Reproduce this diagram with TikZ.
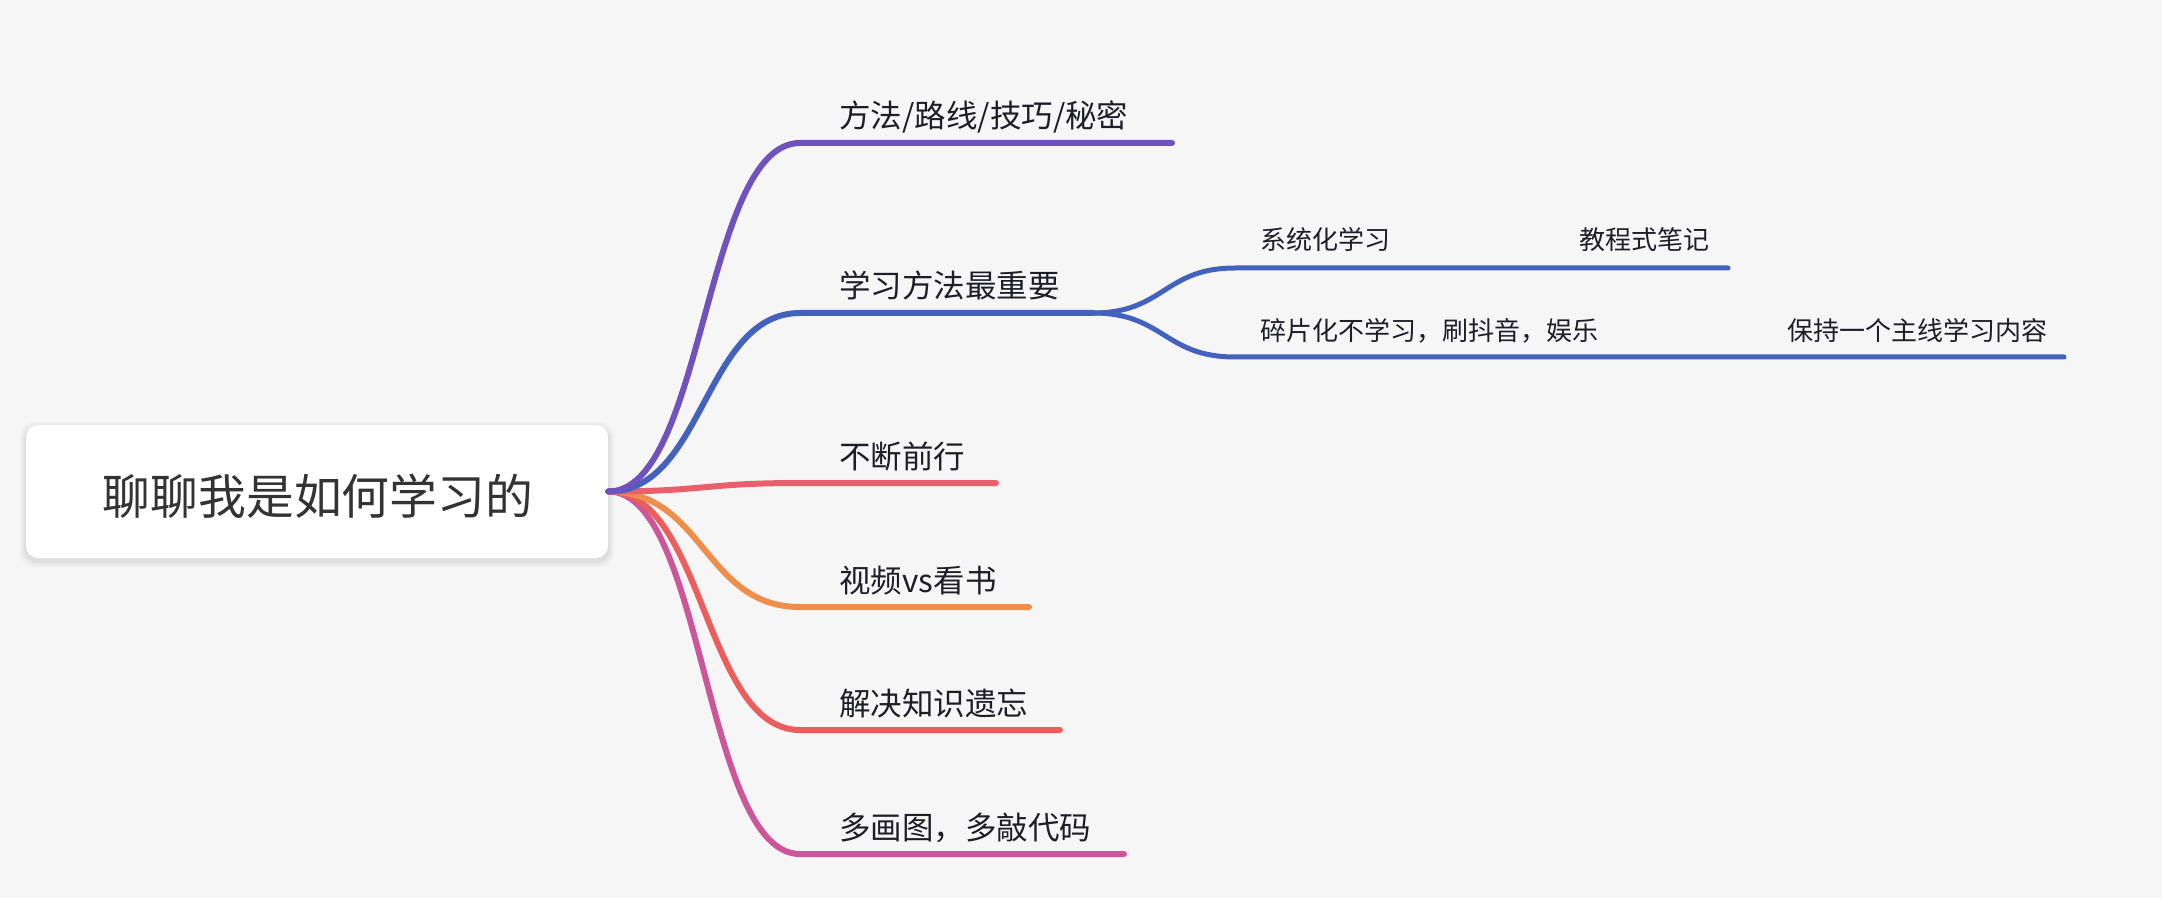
\documentclass[tikz,border=0pt]{standalone}
\usepackage{fontspec}
\setmainfont{Noto Sans CJK SC}
\usetikzlibrary{calc}
\definecolor{bgc}{HTML}{F6F6F6}
\definecolor{cpurple}{HTML}{6F52BE}
\definecolor{cblue}{HTML}{4262BE}
\definecolor{cred}{HTML}{E9606C}
\definecolor{corange}{HTML}{EE8E4A}
\definecolor{cred2}{HTML}{EB5E5B}
\definecolor{cmag}{HTML}{CC5699}
\definecolor{ctext}{HTML}{1E1E28}
\definecolor{ctitle}{HTML}{333333}
\tikzset{
  rootbox/.style={fill=white, rounded corners=6pt, minimum width=291pt, minimum height=66.5pt, inner sep=0pt},
  roottext/.style={text=ctitle, font=\fontsize{23.9}{28}\selectfont, inner sep=0pt, anchor=base},
  brtext/.style={text=ctext, font=\fontsize{15.75}{19}\selectfont, inner sep=0pt, anchor=base west},
  subtext/.style={text=ctext, font=\fontsize{13}{16}\selectfont, inner sep=0pt, anchor=base west},
  mainline/.style={line width=3pt, line cap=round},
  subline/.style={line width=2.5pt, line cap=round},
}
\begin{document}
\begin{tikzpicture}[x=0.5pt,y=-0.5pt]
\fill[bgc] (0,0) rectangle (2162,898);
\useasboundingbox (0,0) rectangle (2162,898);
% shadow
\foreach \s/\o in {6/0.025,4/0.03,2/0.04}{
  \fill[black,opacity=\o,rounded corners=7pt] (26-\s,425-\s+3) rectangle (608+\s,558+\s+3);
}
\node[rootbox] (box) at (317,491.5) {};
\node[roottext] (title) at (318,514) {聊聊我是如何学习的};

% branch ends
\coordinate (b1s) at (800,143);  \coordinate (b1e) at (1172,143);
\coordinate (b2s) at (800,313);  \coordinate (b2e) at (1093,313);
\coordinate (b3s) at (800,483);  \coordinate (b3e) at (996,483);
\coordinate (b4s) at (800,607);  \coordinate (b4e) at (1029,607);
\coordinate (b5s) at (800,730);  \coordinate (b5e) at (1060,730);
\coordinate (b6s) at (800,854);  \coordinate (b6e) at (1124,854);

\draw[mainline,cmag] (box.east) .. controls ($(box.east)+(96,0)$) and ($(b6s)+(-96,0)$) .. (b6s) -- (b6e);
\draw[mainline,cred2] (box.east) .. controls ($(box.east)+(96,0)$) and ($(b5s)+(-96,0)$) .. (b5s) -- (b5e);
\draw[mainline,corange] (box.east) .. controls ($(box.east)+(96,0)$) and ($(b4s)+(-96,0)$) .. (b4s) -- (b4e);
\draw[mainline,cred] (box.east) .. controls ($(box.east)+(96,0)$) and ($(b3s)+(-96,0)$) .. (b3s) -- (b3e);
\draw[mainline,cblue] (box.east) .. controls ($(box.east)+(96,0)$) and ($(b2s)+(-96,0)$) .. (b2s) -- (b2e);
\draw[mainline,cpurple] (box.east) .. controls ($(box.east)+(96,0)$) and ($(b1s)+(-96,0)$) .. (b1s) -- (b1e);

% sub-branches
\coordinate (s1s) at (1235,268); \coordinate (s1e) at (1728,268);
\coordinate (s2s) at (1235,357); \coordinate (s2e) at (2064,357);
\draw[subline,cblue] (b2e) .. controls ($(b2e)+(71,0)$) and ($(s1s)+(-71,0)$) .. (s1s) -- (s1e);
\draw[subline,cblue] (b2e) .. controls ($(b2e)+(71,0)$) and ($(s2s)+(-71,0)$) .. (s2s) -- (s2e);

% labels
\node[brtext] (t1) at (839,128) {方法/路线/技巧/秘密};
\node[brtext] (t2) at (839,298) {学习方法最重要};
\node[brtext] (t3) at (839,468) {不断前行};
\node[brtext] (t4) at (839,592) {视频vs看书};
\node[brtext] (t5) at (839,715) {解决知识遗忘};
\node[brtext] (t6) at (839,839) {多画图，多敲代码};

\node[subtext] (u1) at (1260,250) {系统化学习};
\node[subtext] (u2) at (1579,250) {教程式笔记};
\node[subtext] (u3) at (1260,341) {碎片化不学习，刷抖音，娱乐};
\node[subtext] (u4) at (1787,341) {保持一个主线学习内容};
\end{tikzpicture}
\end{document}
